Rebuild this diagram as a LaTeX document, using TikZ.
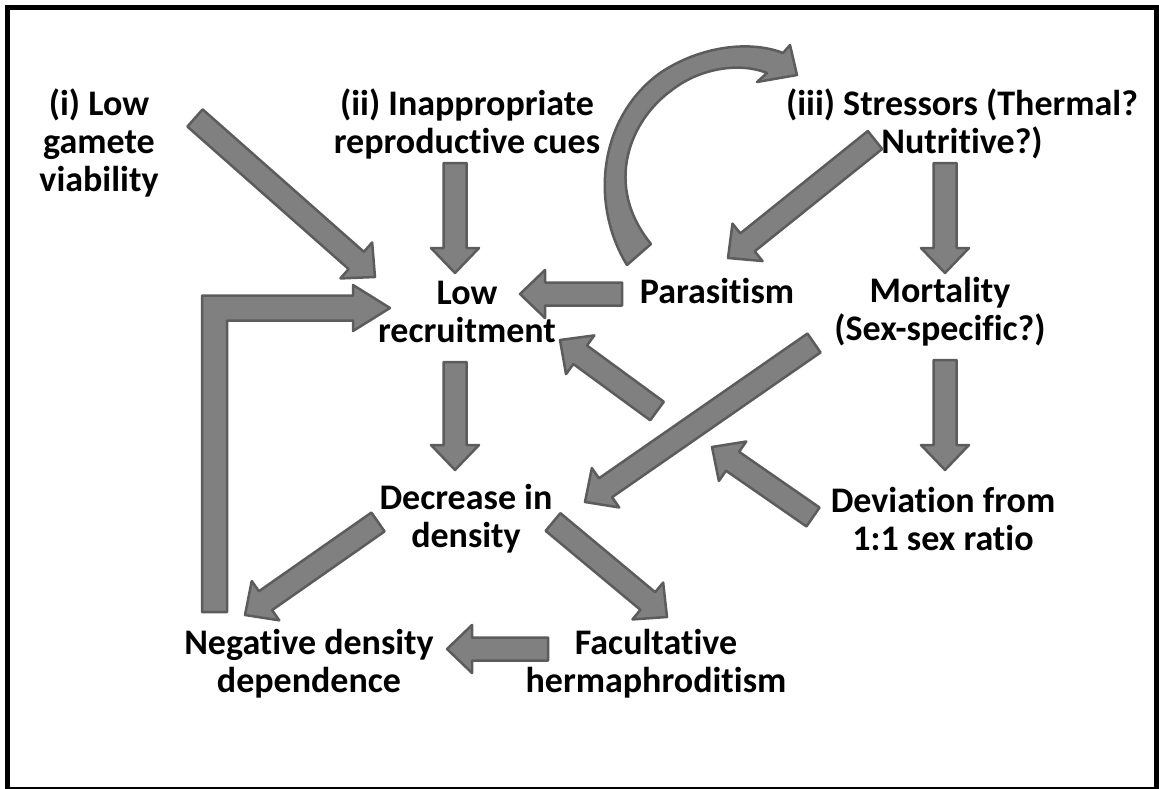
\documentclass[tikz,border=0pt]{standalone}
\usepackage{fontspec}
\setmainfont{Carlito}[Ligatures=NoCommon]
\usepackage{tikz}
\usetikzlibrary{calc}
\definecolor{arrowGray}{RGB}{128,128,128}
\definecolor{arrowEdge}{RGB}{92,92,92}

\newcommand{\shaftw}{11.5pt}
\newcommand{\headw}{24pt}
\newcommand{\headl}{25pt}
% block arrow: tail, tip
\newcommand{\blockarrow}[2]{%
  \coordinate (ba-s) at (#1);
  \coordinate (ba-t) at (#2);
  \coordinate (ba-n) at ($(ba-t)!\headl!(ba-s)$);
  \path[fatarrow] ($(ba-s)!\shaftw!90:(ba-t)$) -- ($(ba-n)!\shaftw!90:(ba-t)$) -- ($(ba-n)!\headw!90:(ba-t)$) -- (ba-t) -- ($(ba-n)!\headw!-90:(ba-t)$) -- ($(ba-n)!\shaftw!-90:(ba-t)$) -- ($(ba-s)!\shaftw!-90:(ba-t)$) -- cycle;
}

\begin{document}
\begin{tikzpicture}[
  x=1pt, y=-1pt,
  lbl/.style={font=\fontsize{36}{38}\selectfont\bfseries, align=center, inner sep=0pt},
  fatarrow/.style={fill=arrowGray, draw=arrowEdge, line width=2.5pt, line join=round}
]
  \useasboundingbox (0,0) rectangle (1159,789);
  \draw[line width=5pt] (7.5,7.5) rectangle (1156.5,789);

  % Causes
  \node[lbl] (gamete) at (99,143) {(i) Low\\gamete\\viability};
  \node[lbl] (approp) at (467,124) {(ii) Inappropriate\\reproductive cues};
  \node[lbl] (stress) at (962,124) {(iii) Stressors (Thermal?\\Nutritive?)};

  % Middle row
  \node[lbl] (lowrec) at (467,312) {Low\\recruitment};
  \node[lbl] (paras) at (717,291) {Parasitism};
  \node[lbl] (mort) at (940,312) {Mortality\\(Sex-specific?)};

  % Density
  \node[lbl] (decr) at (466,519) {Decrease in\\density};
  \node[lbl] (devi) at (943,519) {Deviation from\\1:1 sex ratio};

  % Consequences
  \node[lbl] (negdd) at (309,664) {Negative density\\dependence};
  \node[lbl] (facult) at (656,664) {Facultative\\hermaphroditism};

  % gap where the sex ratio arrow crosses
  \coordinate (gapin) at (712,447);
  \coordinate (gapout) at (657,411);

  % Arrows
  \blockarrow{$(gamete)+(96,-25)$}{$(lowrec)+(-92,-35)$}
  \blockarrow{$(approp)+(-12,39)$}{$(lowrec)+(-12,-39)$}
  \blockarrow{$(stress)+(-87,16)$}{$(paras)+(11,-33)$}
  \blockarrow{$(stress)+(-17,39)$}{$(mort)+(5,-39)$}
  \blockarrow{$(paras)+(-95,3)$}{$(lowrec)+(53,-18)$}
  \blockarrow{$(lowrec)+(-12,50)$}{$(decr)+(-11,-49)$}
  \blockarrow{$(mort)+(-126,31)$}{$(decr)+(119,-17)$}
  \blockarrow{$(mort)+(5,48)$}{$(devi)+(2,-49)$}
  \blockarrow{$(devi)+(-130,-2)$}{gapin}
  \blockarrow{gapout}{$(lowrec)+(93,28)$}
  \blockarrow{$(decr)+(-88,3)$}{$(negdd)+(-64,-49)$}
  \blockarrow{$(decr)+(87,3)$}{$(facult)+(11,-47)$}
  \blockarrow{$(facult)+(-108,-15)$}{$(negdd)+(138,-15)$}

  % Feedback loop
  \coordinate (lfoot) at ($(negdd)+(-94.5,-52)$);
  \coordinate (ltip) at ($(lowrec)+(-77,-4)$);
  \path[fatarrow] ($(lfoot)+(-12.5,0)$) |- ($(ltip)+(-37,-12.5)$) -- ++(0,-10.5) -- (ltip)
    -- ($(ltip)+(-37,23)$) -- ++(0,-10.5) -| ($(lfoot)+(12.5,0)$) -- cycle;

  % Curved arrow
  \coordinate (ctail) at ($(paras)+(-77,-36)$);
  \coordinate (chead) at ($(stress)+(-165,-49)$);
  \path[fatarrow] ($(ctail)+(-13,10)$) .. controls (590,205) and (598,118) .. (660,73)
    .. controls (700,46) and (750,40) .. (783,53) -- (790,45) -- (chead) -- (757,82) -- (767,73)
    .. controls (740,62) and (700,68) .. (672,90) .. controls (630,120) and (603,185) .. ($(ctail)+(11,-11)$) -- cycle;

\end{tikzpicture}
\end{document}
